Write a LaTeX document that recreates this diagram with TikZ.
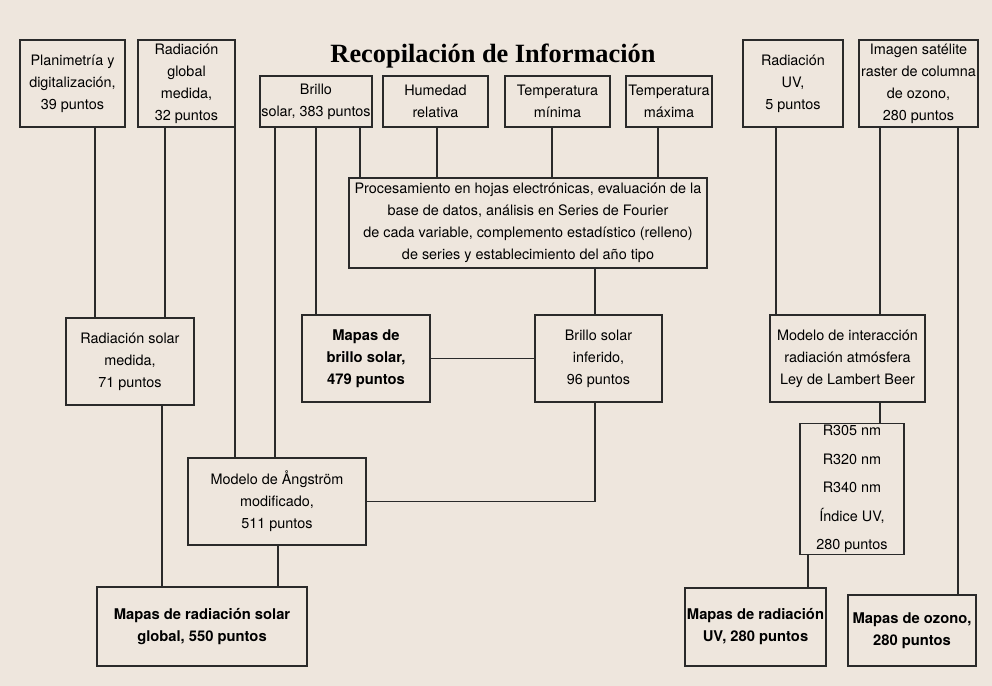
\documentclass[tikz,border=0pt]{standalone}
\usepackage{fontspec}
\setmainfont{TeX Gyre Heros}
\newfontfamily\titlefont{Liberation Serif}
\usetikzlibrary{positioning}
\definecolor{paper}{HTML}{EEE6DD}
\definecolor{ink}{HTML}{2A2A2A}
\tikzset{
    bx/.style 2 args={draw=ink, line width=1.1pt, fill=paper, align=center,
        font=\fontsize{8.2}{12.5}\selectfont, inner sep=1pt,
        minimum width=#1*0.02cm, minimum height=#2*0.02cm},
    bxb/.style 2 args={bx={#1}{#2}, font=\fontsize{8.4}{12.5}\selectfont\bfseries},
    link/.style={draw=ink, line width=0.6pt}
}
\begin{document}
\begin{tikzpicture}[x=0.02cm, y=-0.02cm]
    \fill[paper] (0,0) rectangle (992,686);
    \useasboundingbox (0,0) rectangle (992,686);
    \node[font=\titlefont\fontsize{15}{18}\selectfont\bfseries] (title) at (493,56) {Recopilación de Información};
    % first row
    \node[bx={105}{87}] (plan) at (72.5,83.5) {Planimetría y\\digitalización,\\39 puntos};
    \node[bx={97}{87}] (rgm) at (186.5,83.5) {Radiación\\global\\medida,\\32 puntos};
    \node[bx={108}{51}] (brillo) at (316,101.5) {Brillo\\solar, 383 puntos};
    \node[bx={105}{51}] (hum) at (435.5,101.5) {Humedad\\relativa};
    \node[bx={105}{51}] (tmin) at (557.5,101.5) {Temperatura\\mínima};
    \node[bx={86}{51}] (tmax) at (669,101.5) {Temperatura\\máxima};
    \node[bx={100}{87}] (uv) at (793,83.5) {Radiación\\UV,\\5 puntos};
    \node[bx={115}{87}] (sat) at (918.5,83.5) {Imagen satélite\\raster de columna\\de ozono,\\280 puntos};
    % processing
    \node[bx={358}{90}] (proc) at (528,223) {Procesamiento en hojas electrónicas, evaluación de la\\base de datos, análisis en Series de Fourier\\de cada variable, complemento estadístico (relleno)\\de series y establecimiento del año tipo};
    % middle row
    \node[bx={128}{87}] (rsm) at (130,361.5) {Radiación solar\\medida,\\71 puntos};
    \node[bxb={128}{87}] (mbs) at (366,358.5) {Mapas de\\brillo solar,\\479 puntos};
    \node[bx={127}{87}] (bsi) at (598.5,358.5) {Brillo solar\\inferido,\\96 puntos};
    \node[bx={155}{87}] (mod) at (847.5,358.5) {Modelo de interacción\\radiación atmósfera\\Ley de Lambert Beer};
    \node[bx={104}{130}, font=\fontsize{8.2}{16.2}\selectfont] (rnm) at (852,489) {R305 nm\\R320 nm\\R340 nm\\Índice UV,\\280 puntos};
    \node[bx={178}{87}] (ang) at (277,501.5) {Modelo de Ångström\\modificado,\\511 puntos};
    % maps
    \node[bxb={210}{79}] (mrg) at (202,626.5) {Mapas de radiación solar\\global, 550 puntos};
    \node[bxb={127}{78}] (muv) at (755.5,627) {Mapas de radiación\\UV, 280 puntos};
    \node[bxb={128}{71}] (moz) at (912,630.5) {Mapas de ozono,\\280 puntos};
    % connectors
    \draw[link] (plan.south -| 95,0) -- (rsm.north -| 95,0);
    \draw[link] (rgm.south -| 165,0) -- (rsm.north -| 165,0);
    \draw[link] (rgm.south -| 235,0) -- (ang.north -| 235,0);
    \draw[link] (brillo.south -| 275,0) -- (ang.north -| 275,0);
    \draw[link] (brillo.south -| 316,0) -- (mbs.north -| 316,0);
    \draw[link] (brillo.south -| 360,0) -- (proc.north -| 360,0);
    \draw[link] (hum.south -| 437,0) -- (proc.north -| 437,0);
    \draw[link] (tmin.south -| 552,0) -- (proc.north -| 552,0);
    \draw[link] (tmax.south -| 658,0) -- (proc.north -| 658,0);
    \draw[link] (proc.south -| 595,0) -- (bsi.north -| 595,0);
    \draw[link] (mbs.east) -- (bsi.west);
    \draw[link] (bsi.south -| 595,0) |- (ang.east);
    \draw[link] (rsm.south -| 162,0) -- (mrg.north -| 162,0);
    \draw[link] (ang.south -| 278,0) -- (mrg.north -| 278,0);
    \draw[link] (uv.south -| 776,0) -- (mod.north -| 776,0);
    \draw[link] (sat.south -| 880,0) -- (mod.north -| 880,0);
    \draw[link] (sat.south -| 958,0) -- (moz.north -| 958,0);
    \draw[link] (mod.south -| 880,0) -- (rnm.north -| 880,0);
    \draw[link] (rnm.south -| 808,0) -- (muv.north -| 808,0);
\end{tikzpicture}
\end{document}
